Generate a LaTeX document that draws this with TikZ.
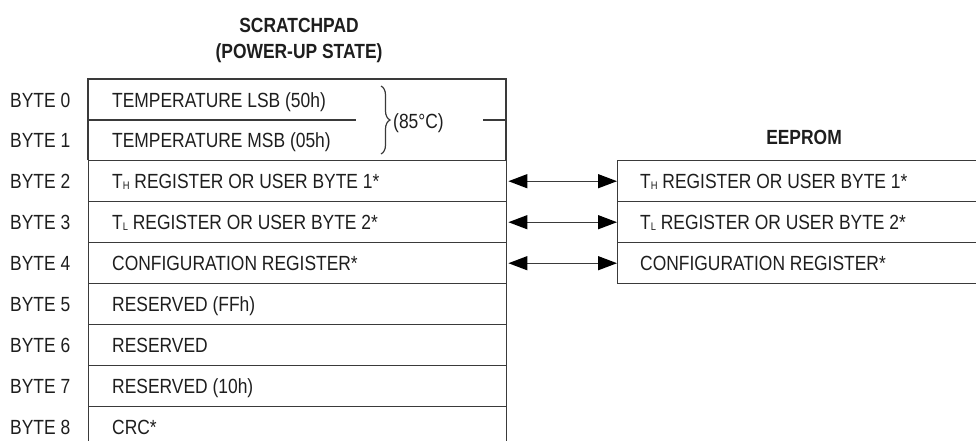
\documentclass[tikz,border=0pt]{standalone}
\usepackage{fontspec}
\setmainfont{Liberation Sans}
\newfontfamily\lblfont[FakeStretch=0.85]{Liberation Sans}
\usetikzlibrary{arrows.meta,decorations.pathreplacing}
\definecolor{ln}{HTML}{3A3A3A}
\definecolor{tx}{HTML}{1E1E1E}
\newcommand{\subH}[1]{{\fontsize{11}{11}\selectfont\raisebox{-1.5pt}{#1}}}
\tikzset{
  lbl/.style={anchor=west,inner sep=0pt,text=tx,font=\lblfont\fontsize{20.5}{22}\selectfont,text height=14.7pt,text depth=0pt},
  ttl/.style={inner sep=0pt,text=tx,font=\lblfont\bfseries\fontsize{20.5}{22}\selectfont,text height=14.7pt,text depth=0pt},
  rowbox/.style={draw=ln,line width=1.4pt,anchor=north west,inner sep=0pt,minimum width=418pt,minimum height=41pt},
  ebox/.style={draw=ln,line width=1.4pt,anchor=north west,inner sep=0pt,minimum width=380pt,minimum height=41pt},
  arr/.style={draw=ln,line width=1.4pt,{Triangle[length=19pt,width=14pt,fill=black,color=black]}-{Triangle[length=19pt,width=14pt,fill=black,color=black]}},
  frame/.style={draw=ln,line width=1.4pt}
}
\begin{document}
\begin{tikzpicture}[x=1pt,y=-1pt]
\useasboundingbox (0,0) rectangle (976,440);
% titles
\node[ttl] (t1) at (299,25) {SCRATCHPAD};
\node[ttl] (t2) at (299,51) {(POWER-UP STATE)};
\node[ttl] (t3) at (804,137) {EEPROM};
% scratchpad bytes 0-1 frame
\draw[frame] (88,160) -- (88,79) -- (506,79) -- (506,160);
\draw[frame] (88,120) -- (356,120);
\draw[frame] (483,120) -- (506,120);
% scratchpad rows 2..8
\node[rowbox] (s2) at (88,160) {};
\node[rowbox] (s3) at (88,201) {};
\node[rowbox] (s4) at (88,242) {};
\node[rowbox] (s5) at (88,283) {};
\node[rowbox] (s6) at (88,324) {};
\node[rowbox] (s7) at (88,365) {};
\node[rowbox] (s8) at (88,406) {};
% eeprom rows
\node[ebox] (e2) at (617,160) {};
\node[ebox] (e3) at (617,201) {};
\node[ebox] (e4) at (617,242) {};
% byte labels
\node[lbl] (b0) at (10,100) {BYTE 0};
\node[lbl] (b1) at (10,140) {BYTE 1};
\node[lbl] (b2) at (10,181) {BYTE 2};
\node[lbl] (b3) at (10,222) {BYTE 3};
\node[lbl] (b4) at (10,263) {BYTE 4};
\node[lbl] (b5) at (10,304) {BYTE 5};
\node[lbl] (b6) at (10,345) {BYTE 6};
\node[lbl] (b7) at (10,386) {BYTE 7};
\node[lbl] (b8) at (10,427) {BYTE 8};
% contents
\node[lbl] (c0) at (112,100) {TEMPERATURE LSB (50h)};
\node[lbl] (c1) at (112,140) {TEMPERATURE MSB (05h)};
\node[lbl] (c2) at (112,181) {T\subH{H} REGISTER OR USER BYTE 1*};
\node[lbl] (c3) at (112,222) {T\subH{L} REGISTER OR USER BYTE 2*};
\node[lbl] (c4) at (112,263) {CONFIGURATION REGISTER*};
\node[lbl] (c5) at (112,304) {RESERVED (FFh)};
\node[lbl] (c6) at (112,345) {RESERVED};
\node[lbl] (c7) at (112,386) {RESERVED (10h)};
\node[lbl] (c8) at (112,427) {CRC*};
\node[lbl] (d2) at (640,181) {T\subH{H} REGISTER OR USER BYTE 1*};
\node[lbl] (d3) at (640,222) {T\subH{L} REGISTER OR USER BYTE 2*};
\node[lbl] (d4) at (640,263) {CONFIGURATION REGISTER*};
% brace and temperature
\coordinate (bt) at (381,86);
\coordinate (bb) at (381,154);
\draw[draw=ln,line width=1.2pt,decorate,decoration={brace,amplitude=9pt}] (bt) -- (bb);
\node[lbl] (deg) at (393,121) {(85°C)};
% arrows
\draw[arr] ([xshift=1pt]s2.east) -- (e2.west);
\draw[arr] ([xshift=1pt]s3.east) -- (e3.west);
\draw[arr] ([xshift=1pt]s4.east) -- (e4.west);
\end{tikzpicture}
\end{document}
